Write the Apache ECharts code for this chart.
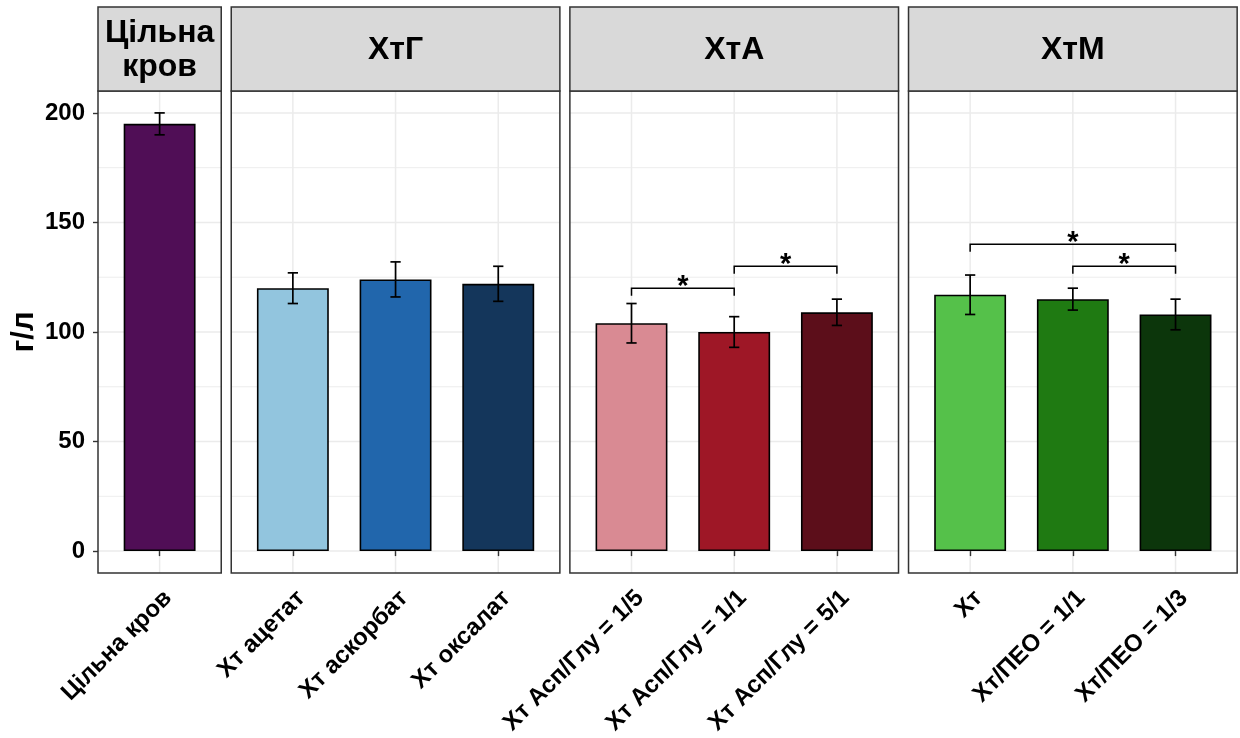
<!DOCTYPE html>
<html><head><meta charset="utf-8">
<script src="https://cdn.jsdelivr.net/npm/echarts@6/dist/echarts.min.js"></script>
<style>html,body{margin:0;padding:0;background:#fff}#c{width:1240px;height:738px}</style>
</head><body><div id="c"></div>
<script>
// ---- data ----
const panelTitles = ['Цільна\nкров', 'ХтГ', 'ХтА', 'ХтМ'];
const categories1 = ['Цільна кров'];
const categories2 = ['Хт ацетат', 'Хт аскорбат', 'Хт оксалат'];
const categories3 = ['Хт Асп/Глу = 1/5', 'Хт Асп/Глу = 1/1', 'Хт Асп/Глу = 5/1'];
const categories4 = ['Хт', 'Хт/ПЕО = 1/1', 'Хт/ПЕО = 1/3'];
const means1 = [195];
const means2 = [120, 124, 122];
const means3 = [104, 100, 109];
const means4 = [117, 115, 108];
const sds1 = [5];
const sds2 = [7, 8, 8];
const sds3 = [9, 7, 6];
const sds4 = [9, 5, 7];
const colors1 = ['#500E56'];
const colors2 = ['#92C5DE', '#2166AC', '#14365B'];
const colors3 = ['#D98A93', '#9E1726', '#5C0E1A'];
const colors4 = ['#55C14A', '#1F7A12', '#0C360B'];
// significance brackets: [from index, to index, height]
const brackets1 = [];
const brackets2 = [];
const brackets3 = [[0, 1, 120], [1, 2, 130]];
const brackets4 = [[0, 2, 140], [1, 2, 130]];
const bracketLabel = '*';
const yTicks = [0, 50, 100, 150, 200];
const yMinorTicks = [25, 75, 125, 175];
const yMin = -10, yMax = 210;
const yTitle = 'г/л';

// ---- layout ----
const groupCats = [categories1, categories2, categories3, categories4];
const groupMeans = [means1, means2, means3, means4];
const groupSds = [sds1, sds2, sds3, sds4];
const groupColors = [colors1, colors2, colors3, colors4];
const groupBrackets = [brackets1, brackets2, brackets3, brackets4];

const FONT = 'Liberation Sans, Arial, sans-serif';
const U = 102.7, X0 = 98, GAP = 10, TOP = 91, BOTTOM = 573, STRIP_TOP = 7;
const frames = [];
let cx = X0;
groupCats.forEach(c => { const w = (c.length + 0.2) * U; frames.push([cx, w]); cx += w + GAP; });

const grids = [], xAxes = [], yAxes = [], series = [], graphics = [];

function renderGridLines(params, api) {
  const cs = params.coordSys;
  const pad = api.size([1, 0])[0] * 0.1;
  const kids = [];
  yMinorTicks.forEach(v => {
    const y = api.coord([0, v])[1];
    kids.push({ type: 'line', shape: { x1: cs.x - pad, y1: y, x2: cs.x + cs.width + pad, y2: y }, style: { stroke: '#EBEBEB', lineWidth: 0.9 } });
  });
  yTicks.forEach(v => {
    const y = api.coord([0, v])[1];
    kids.push({ type: 'line', shape: { x1: cs.x - pad, y1: y, x2: cs.x + cs.width + pad, y2: y }, style: { stroke: '#EBEBEB', lineWidth: 1.5 } });
  });
  const n = api.value(0);
  for (let i = 0; i < n; i++) {
    const x = api.coord([i, 0])[0];
    kids.push({ type: 'line', shape: { x1: x, y1: cs.y, x2: x, y2: cs.y + cs.height }, style: { stroke: '#EBEBEB', lineWidth: 1.5 } });
  }
  return { type: 'group', children: kids };
}

function renderErr(params, api) {
  const x = api.value(0), m = api.value(1), s = api.value(2);
  const t = api.coord([x, m + s]), b = api.coord([x, m - s]);
  const hw = api.size([1, 0])[0] * 0.05;
  const st = { stroke: '#000', lineWidth: 1.7 };
  return { type: 'group', children: [
    { type: 'line', shape: { x1: t[0], y1: t[1], x2: b[0], y2: b[1] }, style: st },
    { type: 'line', shape: { x1: t[0] - hw, y1: t[1], x2: t[0] + hw, y2: t[1] }, style: st },
    { type: 'line', shape: { x1: b[0] - hw, y1: b[1], x2: b[0] + hw, y2: b[1] }, style: st }
  ] };
}

function renderBracket(params, api) {
  const a = api.value(0), b = api.value(1), h = api.value(2);
  const tip = 3.4;
  const p1 = api.coord([a, h - tip]), p2 = api.coord([a, h]), p3 = api.coord([b, h]), p4 = api.coord([b, h - tip]);
  return { type: 'group', children: [
    { type: 'polyline', shape: { points: [p1, p2, p3, p4] }, style: { stroke: '#000', fill: null, lineWidth: 1.5 } },
    { type: 'text', x: (p2[0] + p3[0]) / 2, y: p2[1] + 13,
      style: { text: bracketLabel, font: 'bold 29px ' + FONT, fill: '#000', align: 'center', verticalAlign: 'bottom' } }
  ] };
}

groupCats.forEach((cats, g) => {
  const [fx, fw] = frames[g];
  grids.push({ left: fx + 0.1 * U, top: TOP, width: cats.length * U, height: BOTTOM - TOP, containLabel: false });
  xAxes.push({
    type: 'category', gridIndex: g, data: cats,
    axisLine: { show: false },
    axisTick: { show: true, alignWithLabel: true, length: 5, lineStyle: { color: '#333', width: 1.4 } },
    axisLabel: { interval: 0, rotate: 45, fontSize: 24, fontWeight: 'bold', fontFamily: FONT, color: '#000', margin: 13, verticalAlign: 'top' },
    splitLine: { show: false }
  });
  const ya = {
    type: 'value', gridIndex: g, min: yMin, max: yMax,
    splitLine: { show: false }, axisLine: { show: false }
  };
  if (g === 0) {
    Object.assign(ya, {
      position: 'left', offset: 0.1 * U,
      axisTick: { show: true, length: 5, customValues: yTicks, lineStyle: { color: '#333', width: 1.4 } },
      axisLabel: { customValues: yTicks, fontSize: 24, fontWeight: 'bold', fontFamily: FONT, color: '#000', margin: 13 },
      name: yTitle, nameLocation: 'middle', nameGap: 58, nameRotate: 90,
      nameTextStyle: { fontSize: 31, fontWeight: 'bold', fontFamily: FONT, color: '#000' }
    });
  } else {
    Object.assign(ya, { axisTick: { show: false }, axisLabel: { show: false } });
  }
  yAxes.push(ya);

  series.push({ type: 'custom', xAxisIndex: g, yAxisIndex: g, z: 0, silent: true, clip: false,
    renderItem: renderGridLines, data: [[cats.length, 0]], encode: { x: 0, y: 1 } });
  series.push({ type: 'bar', xAxisIndex: g, yAxisIndex: g, z: 2, barWidth: '70%', silent: true,
    data: groupMeans[g].map((v, i) => ({ value: v, itemStyle: { color: groupColors[g][i] } })),
    itemStyle: { borderColor: '#000', borderWidth: 1.6 } });
  series.push({ type: 'custom', xAxisIndex: g, yAxisIndex: g, z: 3, silent: true, clip: false,
    renderItem: renderErr, data: groupMeans[g].map((m, i) => [i, m, groupSds[g][i]]), encode: { x: 0, y: 1 } });
  if (groupBrackets[g].length) {
    series.push({ type: 'custom', xAxisIndex: g, yAxisIndex: g, z: 3, silent: true, clip: false,
      renderItem: renderBracket, data: groupBrackets[g], encode: { x: [0, 1], y: 2 } });
  }

  // panel frame and strip
  graphics.push({ type: 'rect', z: 50, silent: true, shape: { x: fx, y: TOP, width: fw, height: BOTTOM - TOP },
    style: { fill: null, stroke: '#333', lineWidth: 1.5 } });
  graphics.push({ type: 'rect', z: 50, silent: true, shape: { x: fx, y: STRIP_TOP, width: fw, height: TOP - STRIP_TOP },
    style: { fill: '#D9D9D9', stroke: '#333', lineWidth: 1.5 } });
  graphics.push({ type: 'text', z: 51, silent: true, x: fx + fw / 2, y: (STRIP_TOP + TOP) / 2 + 1,
    style: { text: panelTitles[g], font: 'bold 32px ' + FONT, fill: '#000', align: 'center', verticalAlign: 'middle', lineHeight: 34 } });
});

const chart = echarts.init(document.getElementById('c'), null, { renderer: 'canvas' });
chart.setOption({
  animation: false,
  backgroundColor: '#fff',
  grid: grids, xAxis: xAxes, yAxis: yAxes, series: series,
  graphic: { elements: graphics }
});
</script></body></html>
